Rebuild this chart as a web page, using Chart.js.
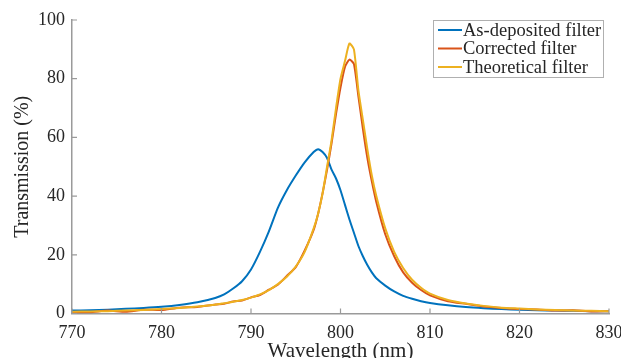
<!DOCTYPE html>
<html>
<head>
<meta charset="utf-8">
<script src="https://cdn.jsdelivr.net/npm/chart.js@4.4.1/dist/chart.umd.min.js"></script>
<style>
    html, body { margin: 0; padding: 0; background: #fff; }
    #chart { display: block; }
</style>
</head>
<body>
<canvas id="chart" width="621" height="358"></canvas>
<script>
const wavelengths = [770, 772, 774, 776, 778, 780, 782, 784, 786, 787, 788, 789, 790, 791, 792, 793, 794, 795, 796, 797, 797.5, 798, 798.5, 799, 799.5, 800, 800.5, 801, 801.5, 802, 802.5, 803, 803.5, 804, 805, 806, 807, 808, 809, 810, 812, 814, 816, 818, 820, 822, 824, 826, 828, 830];

const asDeposited = [1.0, 1.1, 1.3, 1.6, 1.9, 2.3, 2.9, 3.8, 5.3, 6.5, 8.5, 11, 15, 21, 28, 36, 42, 47, 51.5, 55, 56, 55, 53, 49, 46, 42, 37, 32, 27.5, 23, 19.5, 16.5, 14, 12, 9.5, 7.5, 6, 5, 4.2, 3.6, 2.8, 2.2, 1.8, 1.5, 1.3, 1.1, 1.0, 0.9, 0.8, 0.8];

const corrected = [0.5, 0.4, 1.0, 0.6, 1.3, 1.2, 2.0, 2.2, 3.1, 3.3, 4.1, 4.4, 5.5, 6.3, 8.1, 9.8, 12.8, 15.8, 21.5, 28.5, 34, 41, 49, 58, 68, 77, 84, 86.5, 85, 74, 63, 53, 45, 38, 27, 19.5, 14, 10.5, 8, 6.2, 4.2, 3.3, 2.4, 1.9, 1.5, 1.4, 1.0, 1.1, 0.7, 0.8];

const theoretical = [0.6, 0.7, 0.8, 1.0, 1.2, 1.5, 1.9, 2.4, 3.0, 3.5, 4.0, 4.6, 5.4, 6.5, 8.0, 10, 12.5, 16, 21, 29, 34, 41, 50, 59, 70, 80, 86, 92, 90, 76, 66, 56, 47, 40, 29, 21, 15.5, 11.5, 8.8, 6.8, 4.6, 3.4, 2.6, 2.0, 1.7, 1.4, 1.2, 1.0, 0.9, 0.8];

const seriesLabels = ["As-deposited filter", "Corrected filter", "Theoretical filter"];
const seriesColors = ["#0072BD", "#D95319", "#EDB120"];

const fontFamily = "'Liberation Serif', 'DejaVu Serif', serif";
const textColor = "#262626";
const axisColor = "#9a9a9a";

function toPoints(values) {
    return wavelengths.map((w, i) => ({ x: w, y: values[i] }));
}

// inward ticks + boxed legend, MATLAB style
const matlabBits = {
    id: "matlabBits",
    afterDraw(chart) {
        const ctx = chart.ctx;
        const xs = chart.scales.x;
        const ys = chart.scales.y;
        const area = chart.chartArea;
        ctx.save();
        ctx.strokeStyle = axisColor;
        ctx.lineWidth = 1.2;
        ctx.beginPath();
        xs.ticks.forEach(t => {
            const px = xs.getPixelForValue(t.value);
            ctx.moveTo(px, area.bottom);
            ctx.lineTo(px, area.bottom - 5);
        });
        ys.ticks.forEach(t => {
            const py = ys.getPixelForValue(t.value);
            ctx.moveTo(area.left, py);
            ctx.lineTo(area.left + 5, py);
        });
        ctx.stroke();

        // legend
        const lx = 433, ly = 20, lw = 170, lh = 57;
        ctx.fillStyle = "#fff";
        ctx.fillRect(lx, ly, lw, lh);
        ctx.strokeStyle = "#b0b0b0";
        ctx.lineWidth = 1;
        ctx.strokeRect(lx + 0.5, ly + 0.5, lw, lh);
        ctx.font = "18.5px " + fontFamily;
        ctx.textBaseline = "middle";
        ctx.textAlign = "left";
        chart.data.datasets.forEach((ds, i) => {
            const cy = ly + 10 + i * 18.5;
            ctx.strokeStyle = ds.borderColor;
            ctx.lineWidth = 2;
            ctx.beginPath();
            ctx.moveTo(lx + 5, cy);
            ctx.lineTo(lx + 29, cy);
            ctx.stroke();
            ctx.fillStyle = textColor;
            ctx.fillText(ds.label, lx + 30, cy + 1);
        });
        ctx.restore();
    }
};

const ctx = document.getElementById("chart").getContext("2d");
const chart = new Chart(ctx, {
    type: "line",
    data: {
        datasets: [
            { label: seriesLabels[0], data: toPoints(asDeposited), borderColor: seriesColors[0], order: 2 },
            { label: seriesLabels[1], data: toPoints(corrected), borderColor: seriesColors[1], order: 1 },
            { label: seriesLabels[2], data: toPoints(theoretical), borderColor: seriesColors[2], order: 0 }
        ].map(d => Object.assign(d, {
            borderWidth: 2,
            pointRadius: 0,
            tension: 0.2,
            fill: false
        }))
    },
    options: {
        responsive: false,
        animation: false,
        devicePixelRatio: 1,
        layout: { padding: { top: 20, right: 12, left: 0, bottom: 0 } },
        plugins: {
            legend: { display: false },
            tooltip: { enabled: false }
        },
        scales: {
            x: {
                type: "linear",
                min: 770,
                max: 830,
                afterFit: s => { s.height = 44.5; s.paddingLeft = 0; s.paddingRight = 0; },
                ticks: { stepSize: 10, padding: 9, color: textColor, font: { family: fontFamily, size: 18 }, maxRotation: 0 },
                grid: { display: false, drawTicks: false },
                border: { display: true, color: axisColor, width: 1.5 },
                title: { display: true, text: "Wavelength (nm)", color: textColor, font: { family: fontFamily, size: 21 }, padding: { top: 0, bottom: -6 } }
            },
            y: {
                min: 0,
                max: 100,
                afterFit: s => { s.width = 72; s.paddingTop = 0; s.paddingBottom = 0; },
                ticks: { stepSize: 20, padding: 7, color: textColor, font: { family: fontFamily, size: 18 } },
                grid: { display: false, drawTicks: false },
                border: { display: true, color: axisColor, width: 1.5 },
                title: { display: true, text: "Transmission (%)", color: textColor, font: { family: fontFamily, size: 20 }, padding: { top: 11, bottom: 0 } }
            }
        }
    },
    plugins: [matlabBits]
});
</script>
</body>
</html>
